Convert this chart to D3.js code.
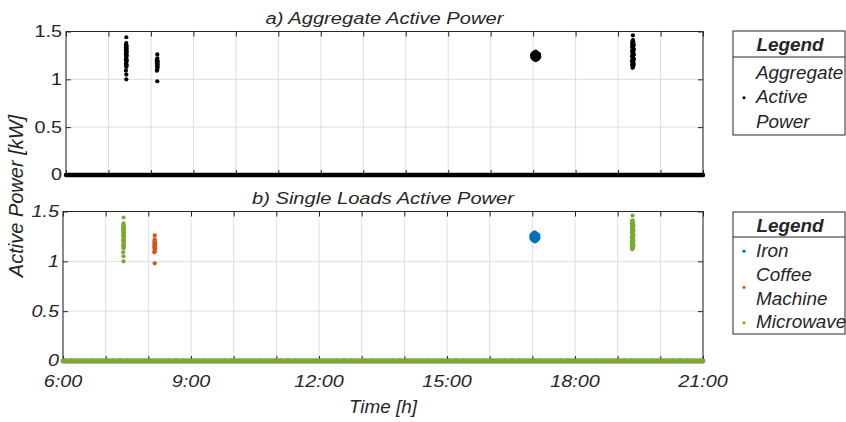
<!DOCTYPE html>
<html><head><meta charset="utf-8">
<script src="https://cdn.jsdelivr.net/npm/d3@7/dist/d3.min.js"></script>
<style>
body{margin:0;background:#fff}
svg{display:block}
text{font-family:"Liberation Sans",Arial,Helvetica,sans-serif;fill:#262626}
</style>
</head><body>
<svg id="c" width="846" height="422"></svg>
<script>
// ---------------- data ----------------
const timeDomain = [6, 21];                       // hours
const gridHours = [6,7,8,9,10,11,12,13,14,15,16,17,18,19,20,21];
const xTickValues = [6, 9, 12, 15, 18, 21];
const xTickLabels = ["6:00", "9:00", "12:00", "15:00", "18:00", "21:00"];
const yTickValues = [0, 0.5, 1, 1.5];
const yTickLabels = ["0", "0.5", "1", "1.5"];
const powerDomain = [0, 1.5];                      // kW

// zero-power readings span the whole day for every load
const zeroSpan = [6, 21];
const coffeeStandbyPower = 0.03;

// [hour, kW]
const ironSamples = [
  [16.98,1.23],[16.98,1.25],[16.98,1.26],
  [17.00,1.22],[17.00,1.24],[17.00,1.26],[17.00,1.27],
  [17.02,1.21],[17.02,1.23],[17.02,1.25],[17.02,1.27],[17.02,1.28],
  [17.04,1.21],[17.04,1.22],[17.04,1.24],[17.04,1.26],[17.04,1.28],
  [17.06,1.20],[17.06,1.22],[17.06,1.24],[17.06,1.25],[17.06,1.27],[17.06,1.29],
  [17.08,1.21],[17.08,1.23],[17.08,1.25],[17.08,1.26],[17.08,1.28],
  [17.10,1.21],[17.10,1.22],[17.10,1.24],[17.10,1.26],[17.10,1.27],
  [17.12,1.22],[17.12,1.24],[17.12,1.25],[17.12,1.27],
  [17.14,1.23],[17.14,1.24],[17.14,1.26]
];
const coffeeSamples = [
  [8.15,1.26],[8.15,1.22],[8.14,1.20],[8.16,1.19],[8.15,1.18],[8.14,1.17],
  [8.16,1.16],[8.15,1.15],[8.14,1.14],[8.16,1.13],[8.15,1.12],[8.15,1.10],
  [8.14,1.09],[8.15,0.98]
];
const microwaveSamples = [
  // morning use
  [7.42,1.44],[7.42,1.38],[7.41,1.36],[7.43,1.35],[7.42,1.34],[7.41,1.33],
  [7.43,1.32],[7.42,1.31],[7.41,1.30],[7.43,1.29],[7.42,1.28],[7.42,1.27],
  [7.41,1.26],[7.43,1.25],[7.42,1.24],[7.42,1.22],[7.41,1.21],[7.43,1.20],
  [7.42,1.19],[7.42,1.17],[7.41,1.16],[7.43,1.15],[7.42,1.14],[7.42,1.13],
  [7.41,1.09],[7.42,1.05],[7.42,1.00],
  // evening use
  [19.33,1.15],[19.33,1.19],[19.33,1.24],[19.33,1.29],[19.33,1.34],[19.33,1.38],
  [19.34,1.12],[19.34,1.17],[19.34,1.21],[19.34,1.26],[19.34,1.31],[19.34,1.36],[19.34,1.40],
  [19.35,1.13],[19.35,1.16],[19.35,1.20],[19.35,1.23],[19.35,1.27],[19.35,1.30],
  [19.35,1.33],[19.35,1.37],[19.35,1.41],[19.35,1.46],
  [19.36,1.14],[19.36,1.18],[19.36,1.22],[19.36,1.25],[19.36,1.28],[19.36,1.32],
  [19.36,1.35],[19.36,1.39],
  [19.37,1.16],[19.37,1.21],[19.37,1.26],[19.37,1.31],[19.37,1.36]
];
const loadNames = ["Iron", "Coffee\nMachine", "Microwave"];
const loadColors = ["#0072BD", "#D95319", "#77AC30"];
const aggregateName = "Aggregate\nActive\nPower";

// ---------------- drawing ----------------
const svg = d3.select("#c");
const INK = "#262626", GRID = "#dedede";

function label(parent, x, y, str, o) {
  const g = parent.append("g").attr("transform", `translate(${x},${y}) scale(${o.sx||1},1)`);
  return g.append("text").text(str)
    .attr("font-size", o.size).attr("text-anchor", o.anchor || "start")
    .attr("dominant-baseline", o.base || "alphabetic")
    .attr("font-style", o.italic ? "italic" : "normal")
    .attr("font-weight", o.bold ? "bold" : "normal");
}

function panel(cfg) {
  const x = d3.scaleLinear().domain(timeDomain).range([cfg.x0, cfg.x1]);
  const y = d3.scaleLinear().domain(powerDomain).range([cfg.y1, cfg.y0]);
  const g = svg.append("g");
  // grid
  g.append("g").selectAll("line").data(gridHours).join("line")
    .attr("x1", d => x(d)).attr("x2", d => x(d)).attr("y1", cfg.y0).attr("y2", cfg.y1)
    .attr("stroke", GRID).attr("stroke-width", 1);
  g.append("g").selectAll("line").data(yTickValues).join("line")
    .attr("x1", cfg.x0).attr("x2", cfg.x1).attr("y1", d => y(d)).attr("y2", d => y(d))
    .attr("stroke", GRID).attr("stroke-width", 1);
  // box
  g.append("rect").attr("x", cfg.x0).attr("y", cfg.y0)
    .attr("width", cfg.x1 - cfg.x0).attr("height", cfg.y1 - cfg.y0)
    .attr("fill", "none").attr("stroke", INK).attr("stroke-width", 1);
  // inward ticks
  const axes = [
    [d3.axisBottom(x).tickValues(gridHours), `translate(0,${cfg.y1})`],
    [d3.axisTop(x).tickValues(gridHours), `translate(0,${cfg.y0})`],
    [d3.axisLeft(y).tickValues(yTickValues), `translate(${cfg.x0},0)`],
    [d3.axisRight(y).tickValues(yTickValues), `translate(${cfg.x1},0)`]
  ];
  axes.forEach(([ax, tr]) => {
    const a = g.append("g").attr("transform", tr)
      .call(ax.tickSize(-5).tickFormat(""));
    a.select(".domain").remove();
    a.selectAll(".tick line").attr("stroke", INK);
  });
  // y tick labels
  yTickValues.forEach((v, i) => {
    label(g, cfg.x0 - 4, y(v), yTickLabels[i],
      {size: 16.5, sx: 1.2, anchor: "end", base: "central", italic: cfg.italic});
  });
  if (cfg.xLabels) {
    xTickValues.forEach((v, i) => {
      label(g, x(v), 387, xTickLabels[i], {size: 16.5, sx: 1.2, anchor: "middle", italic: true});
    });
  }
  label(g, (cfg.x0 + cfg.x1) / 2, cfg.titleY, cfg.title,
    {size: 16.5, sx: 1.22, anchor: "middle", italic: true});
  return {g, x, y};
}

function zeroLine(p, color, width) {
  p.g.append("line")
    .attr("x1", p.x(zeroSpan[0])).attr("x2", p.x(zeroSpan[1]))
    .attr("y1", p.y(0)).attr("y2", p.y(0))
    .attr("stroke", color).attr("stroke-width", width).attr("stroke-linecap", "round");
}
function dots(p, data, color) {
  p.g.append("g").selectAll("circle").data(data).join("circle")
    .attr("cx", d => p.x(d[0])).attr("cy", d => p.y(d[1])).attr("r", 2.1)
    .attr("fill", color);
}

// ---- panel a
const pa = panel({x0: 66, x1: 703, y0: 31.5, y1: 175, italic: false, xLabels: false,
  title: "a) Aggregate Active Power", titleY: 23.5});
zeroLine(pa, "#000", 4.5);
dots(pa, [...microwaveSamples, ...coffeeSamples, ...ironSamples], "#000");

// ---- panel b
const pb = panel({x0: 63, x1: 703, y0: 211.5, y1: 361, italic: true, xLabels: true,
  title: "b) Single Loads Active Power", titleY: 203.5});
pb.g.append("line")
  .attr("x1", pb.x(zeroSpan[0])).attr("x2", pb.x(zeroSpan[1]))
  .attr("y1", pb.y(coffeeStandbyPower)).attr("y2", pb.y(coffeeStandbyPower))
  .attr("stroke", loadColors[1]).attr("stroke-opacity", 0.25)
  .attr("stroke-width", 1).attr("stroke-dasharray", "2,5");
loadColors.forEach(c => zeroLine(pb, c, 4.5));
dots(pb, ironSamples, loadColors[0]);
dots(pb, coffeeSamples, loadColors[1]);
dots(pb, microwaveSamples, loadColors[2]);

// axis titles
label(svg, 383, 413, "Time [h]", {size: 18, sx: 1.05, anchor: "middle", italic: true});
svg.append("text").text("Active Power [kW]")
  .attr("transform", "translate(23,196) rotate(-90)")
  .attr("font-size", 20).attr("font-style", "italic").attr("text-anchor", "middle");

// ---- legends
function legend(top, bottom, sep, titleBase, rows, entries) {
  const g = svg.append("g");
  g.append("rect").attr("x", 733).attr("y", top).attr("width", 112).attr("height", bottom - top)
    .attr("fill", "#fff").attr("stroke", INK).attr("stroke-width", 1);
  g.append("line").attr("x1", 733).attr("x2", 845).attr("y1", sep).attr("y2", sep)
    .attr("stroke", INK).attr("stroke-width", 1);
  label(g, 790, titleBase, "Legend", {size: 17.5, sx: 1.08, anchor: "middle", italic: true, bold: true});
  let row = 0;
  entries.forEach(e => {
    const lines = e.name.split("\n");
    const first = rows[row], last = rows[row + lines.length - 1];
    g.append("circle").attr("cx", 744).attr("cy", (first + last) / 2 - 5.5)
      .attr("r", 1.6).attr("fill", e.color);
    lines.forEach(t => { label(g, 756, rows[row], t, {size: 17.5, sx: 1.08, italic: true}); row++; });
  });
}
legend(31, 135, 57, 51, [79, 103, 127.5], [{name: aggregateName, color: "#000"}]);
legend(212, 334, 237, 231.7, [256.7, 280.7, 305, 328.3],
  loadNames.map((n, i) => ({name: n, color: loadColors[i]})));
</script>
</body></html>
